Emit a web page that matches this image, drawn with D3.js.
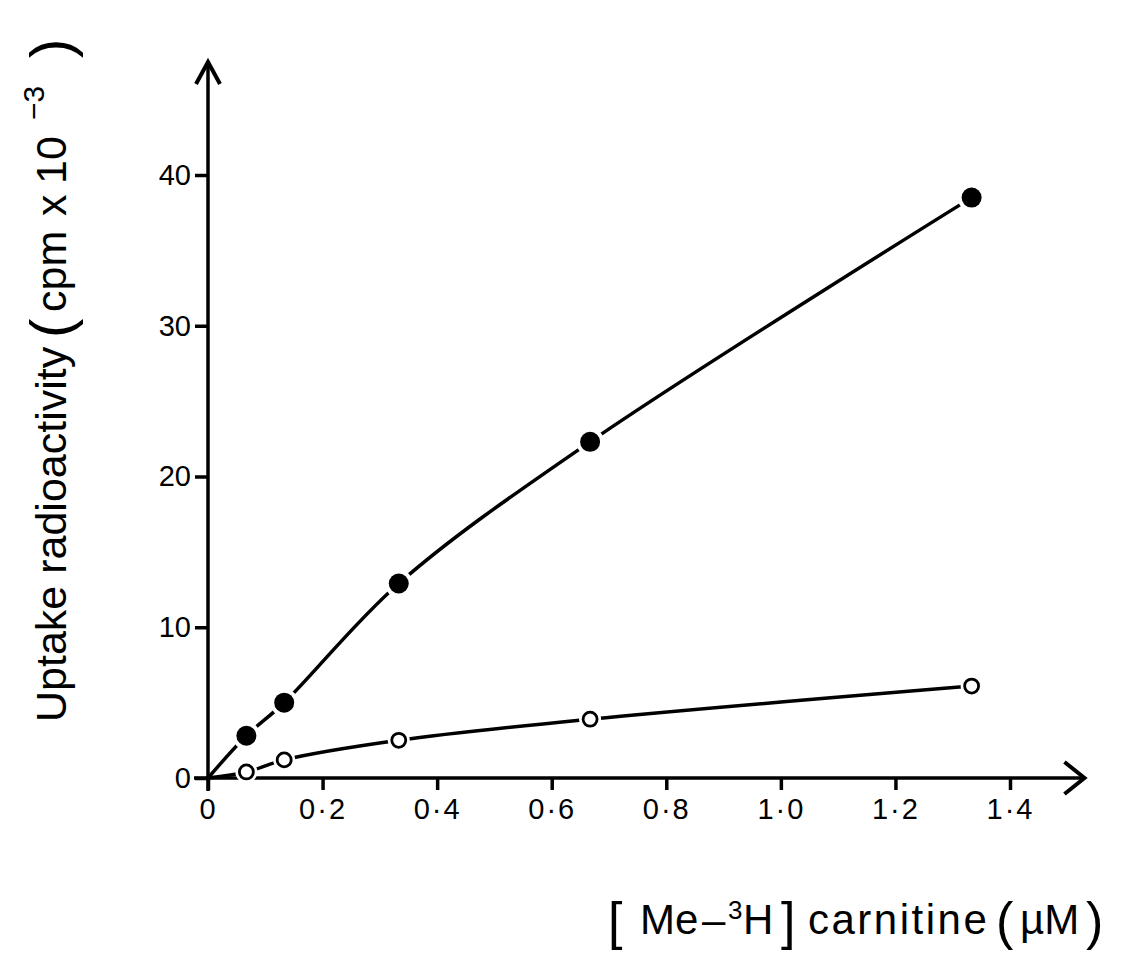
<!DOCTYPE html>
<meta charset="utf-8">
<script src="https://d3js.org/d3.v7.min.js"></script>
<style>
  body { margin: 0; background: #fff; }
  svg { font-family: "Liberation Sans", Arial, sans-serif; }
</style>
<body></body>
<script>
  // concentrations (uM)
  let conc = [0.067, 0.133, 0.333, 0.667, 1.333];
  // uptake, cpm x 10^-3
  let filledSeries = [2.8, 5.0, 12.9, 22.3, 38.5];
  let openSeries = [0.4, 1.2, 2.5, 3.9, 6.1];
  let xTicks = [0, 0.2, 0.4, 0.6, 0.8, 1.0, 1.2, 1.4];
  let yTicks = [0, 10, 20, 30, 40];

  let W = 1122, H = 953;
  let svg = d3.select("body").append("svg")
    .attr("width", W).attr("height", H);

  let x = d3.scaleLinear().domain([0, 1.4]).range([208, 1010]);
  let y = d3.scaleLinear().domain([0, 40]).range([778, 175]);

  let fmt = d => d === 0 ? "0" : d.toFixed(1).replace(".", "\u00B7");

  // axes
  svg.append("g")
    .attr("transform", `translate(0,${y(0)})`)
    .call(d3.axisBottom(x).tickValues(xTicks).tickSize(12).tickPadding(8).tickFormat(fmt))
    .attr("font-size", 29).attr("font-family", null)
    .selectAll(".tick text").attr("letter-spacing", 2).attr("fill", "#000");
  svg.append("g")
    .attr("transform", `translate(${x(0)},0)`)
    .call(d3.axisLeft(y).tickValues(yTicks).tickSize(13).tickPadding(4))
    .attr("font-size", 29).attr("font-family", null)
    .selectAll(".tick text").attr("fill", "#000");
  svg.selectAll(".domain").remove();
  svg.selectAll(".tick line").attr("stroke", "#000").attr("stroke-width", 3.5);

  // axis lines with open arrow heads
  let xEnd = x(1.53), yEnd = y(47.5);
  svg.append("line").attr("x1", x(0) - 14).attr("x2", xEnd)
    .attr("y1", y(0)).attr("y2", y(0))
    .attr("stroke", "#000").attr("stroke-width", 3.5);
  svg.append("line").attr("x1", x(0)).attr("x2", x(0))
    .attr("y1", y(0) + 13).attr("y2", yEnd)
    .attr("stroke", "#000").attr("stroke-width", 3.5);
  svg.append("path")
    .attr("d", `M${xEnd - 20},${y(0) - 16} L${xEnd},${y(0)} L${xEnd - 20},${y(0) + 16}`)
    .attr("fill", "none").attr("stroke", "#000").attr("stroke-width", 4);
  svg.append("path")
    .attr("d", `M${x(0) - 12},${yEnd + 22} L${x(0)},${yEnd} L${x(0) + 12},${yEnd + 22}`)
    .attr("fill", "none").attr("stroke", "#000").attr("stroke-width", 4);

  // curves
  let line = d3.line().x(d => x(d[0])).y(d => y(d[1])).curve(d3.curveCatmullRom.alpha(0.5));
  let filledPts = [[0, 0]].concat(conc.map((c, i) => [c, filledSeries[i]]));
  let openPts = [[0, 0]].concat(conc.map((c, i) => [c, openSeries[i]]));

  [filledPts, openPts].forEach(pts => {
    svg.append("path").datum(pts)
      .attr("d", line)
      .attr("fill", "none").attr("stroke", "#000").attr("stroke-width", 3.5);
  });

  // white halos so the line breaks around each marker
  svg.selectAll(".halo").data(filledPts.slice(1).concat(openPts.slice(1))).enter().append("circle")
    .attr("class", "halo")
    .attr("cx", d => x(d[0])).attr("cy", d => y(d[1]))
    .attr("r", (d, i) => i < 5 ? 14 : 11)
    .attr("fill", "#fff");
  svg.selectAll(".filled").data(filledPts.slice(1)).enter().append("circle")
    .attr("class", "filled")
    .attr("cx", d => x(d[0])).attr("cy", d => y(d[1])).attr("r", 10)
    .attr("fill", "#000");
  svg.selectAll(".open").data(openPts.slice(1)).enter().append("circle")
    .attr("class", "open")
    .attr("cx", d => x(d[0])).attr("cy", d => y(d[1])).attr("r", 7)
    .attr("fill", "#fff").attr("stroke", "#000").attr("stroke-width", 2.8);

  // y label (rotated; x in this frame runs upward)
  let yl = svg.append("text")
    .attr("transform", "translate(66,0) rotate(-90)")
    .attr("font-size", 43);
  yl.append("tspan").attr("x", -722).text("Uptake radioactivity");
  yl.append("tspan").attr("x", -338).attr("font-size", 58).attr("dy", 5).attr("font-weight", 300).text("(");
  yl.append("tspan").attr("x", -312).attr("dy", -5).text("cpm");
  yl.append("tspan").attr("x", -216).text("x");
  yl.append("tspan").attr("x", -184).text("10");
  yl.append("tspan").attr("x", -120).attr("dy", -22).attr("font-size", 30).text("\u22123");
  yl.append("tspan").attr("x", -58).attr("dy", 27).attr("font-size", 58).attr("font-weight", 300).text(")");

  // x label
  let xl = svg.append("text")
    .attr("y", 934)
    .attr("font-size", 42);
  xl.append("tspan").attr("x", 608).attr("font-size", 52).attr("dy", 5).text("[");
  xl.append("tspan").attr("x", 640).attr("dy", -5).text("Me");
  xl.append("tspan").attr("x", 702).text("\u2013");
  xl.append("tspan").attr("x", 728).attr("dy", -15).attr("font-size", 26).text("3");
  xl.append("tspan").attr("x", 743).attr("dy", 15).text("H");
  xl.append("tspan").attr("x", 781).attr("font-size", 52).attr("dy", 5).text("]");
  xl.append("tspan").attr("x", 808).attr("dy", -5).attr("letter-spacing", 2.5).text("carnitine");
  xl.append("tspan").attr("x", 996).attr("font-size", 52).attr("dy", 5).text("(");
  xl.append("tspan").attr("x", 1020).attr("dy", -5).text("\u00B5M");
  xl.append("tspan").attr("x", 1086).attr("font-size", 52).attr("dy", 5).text(")");
</script>
